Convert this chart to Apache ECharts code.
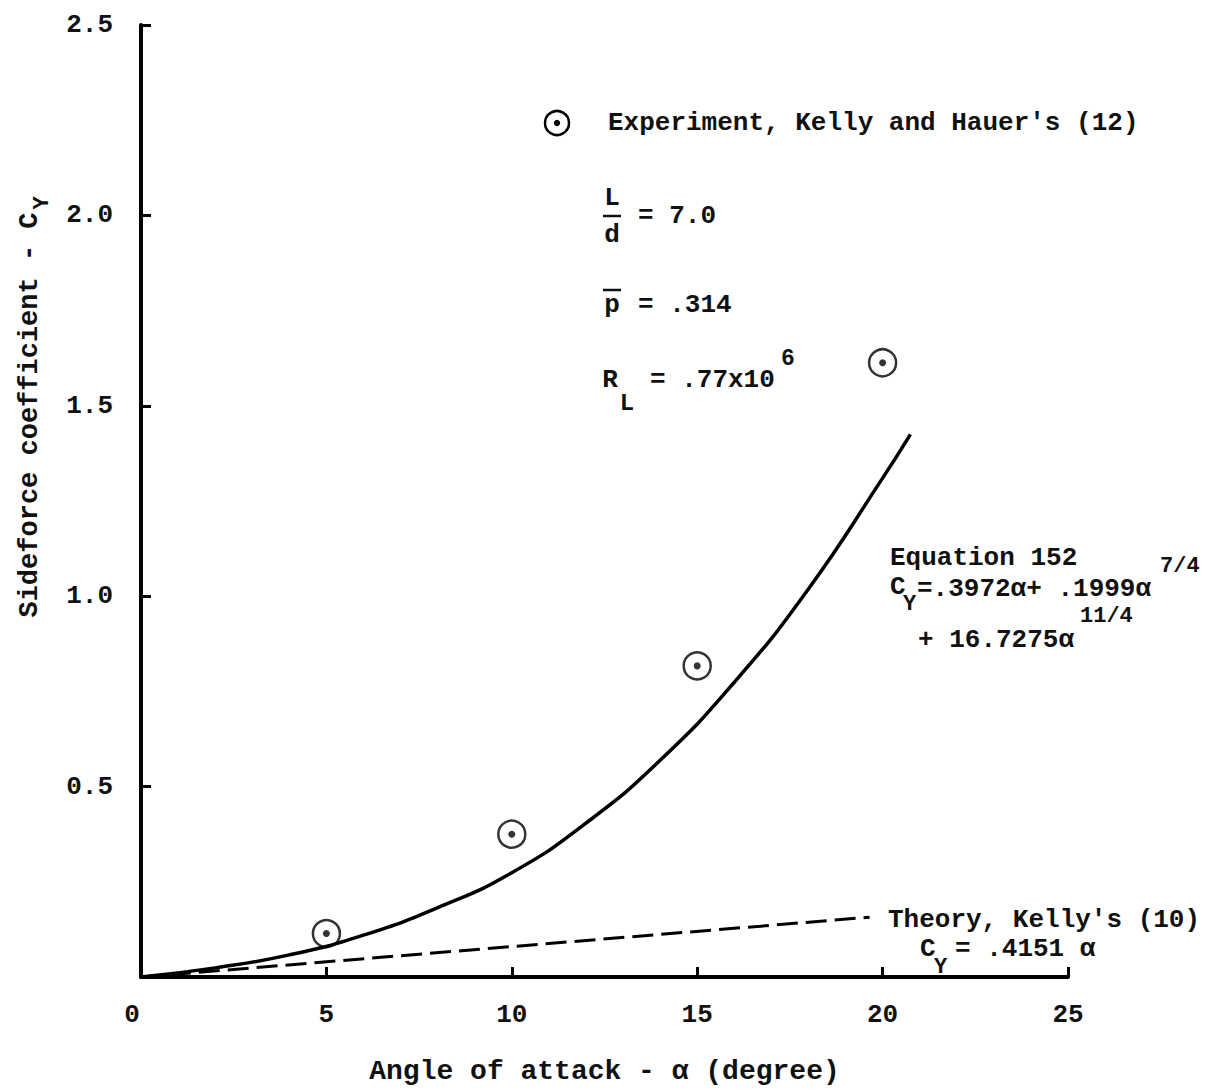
<!DOCTYPE html>
<html>
<head>
<meta charset="utf-8">
<script src="https://cdn.jsdelivr.net/npm/echarts@6/dist/echarts.min.js"></script>
<style>
html,body{margin:0;padding:0;background:#fff;}
#chart{width:1218px;height:1090px;}
</style>
</head>
<body>
<div id="chart"></div>
<script>
// ---- data ----
const xTicks = [0, 5, 10, 15, 20, 25];
const yTicks = [0, 0.5, 1.0, 1.5, 2.0, 2.5];

// Equation 152 curve
const eqX = [0, 2, 4, 6, 8, 10, 12, 14, 16, 18, 20, 20.75];
const eqY = [0, 0.024, 0.058, 0.110, 0.182, 0.274, 0.404, 0.569, 0.774, 1.019, 1.310, 1.425];

// Theory, Kelly's (10): straight dashed line
const thX = [0, 19.65];
const thY = [0, 0.157];

// Experiment, Kelly and Hauer's (12)
const expX = [5, 10, 15, 20];
const expY = [0.114, 0.375, 0.817, 1.613];

const FONT = '"Liberation Mono", "DejaVu Sans Mono", monospace';
const INK = '#111';

const zip = (a, b) => a.map((v, i) => [v, b[i]]);

function txt(x, y, text, opts) {
  opts = opts || {};
  return {
    type: 'text', x: x, y: y, rotation: opts.rotation || 0, silent: true,
    style: {
      text: text, fill: INK,
      font: (opts.weight || 'bold') + ' ' + (opts.size || 26) + 'px ' + FONT,
      textAlign: opts.align || 'left', textVerticalAlign: 'middle'
    }
  };
}
function bar(x1, x2, y) {
  return { type: 'line', silent: true, shape: { x1: x1, y1: y, x2: x2, y2: y }, style: { stroke: INK, lineWidth: 2.5 } };
}

const chart = echarts.init(document.getElementById('chart'), null, { renderer: 'svg' });

chart.setOption({
  backgroundColor: '#fff',
  animation: false,
  grid: { left: 141, right: 150, top: 25, bottom: 103 },
  xAxis: {
    type: 'value', min: xTicks[0], max: xTicks[xTicks.length - 1], interval: 5,
    name: 'Angle of attack - α (degree)', nameLocation: 'middle', nameGap: 80,
    nameTextStyle: { fontFamily: FONT, fontWeight: 'bold', fontSize: 28, color: INK },
    axisLine: { show: true, onZero: false, lineStyle: { color: '#000', width: 4 } },
    axisTick: { show: true, inside: true, length: 10, lineStyle: { color: '#000', width: 3 } },
    axisLabel: {
      fontFamily: FONT, fontWeight: 'bold', fontSize: 26, color: INK, margin: 25,
      formatter: v => (v === 0 ? '{z|0}' : String(v)),
      rich: { z: { fontFamily: FONT, fontWeight: 'bold', fontSize: 26, color: INK, padding: [0, 18, 0, 0] } }
    },
    splitLine: { show: false }
  },
  yAxis: {
    type: 'value', min: yTicks[0], max: yTicks[yTicks.length - 1], interval: 0.5,
    axisLine: { show: true, onZero: false, lineStyle: { color: '#000', width: 4 } },
    axisTick: { show: true, inside: true, length: 10, lineStyle: { color: '#000', width: 3 } },
    axisLabel: {
      fontFamily: FONT, fontWeight: 'bold', fontSize: 26, color: INK, margin: 28,
      formatter: v => (v === 0 ? '' : v.toFixed(1))
    },
    splitLine: { show: false }
  },
  series: [
    {
      name: 'Equation 152', type: 'line', data: zip(eqX, eqY), smooth: true,
      showSymbol: false, lineStyle: { color: '#000', width: 3.5 }, z: 3
    },
    {
      name: "Theory, Kelly's (10)", type: 'line', data: zip(thX, thY),
      showSymbol: false, lineStyle: { color: '#000', width: 3, type: [21, 8] }, z: 3
    },
    {
      name: 'Experiment ring', type: 'scatter', data: zip(expX, expY),
      symbol: 'circle', symbolSize: 27,
      itemStyle: { color: 'rgba(255,255,255,0)', borderColor: '#000', borderWidth: 2.5 }, z: 4
    },
    {
      name: 'Experiment dot', type: 'scatter', data: zip(expX, expY),
      symbol: 'circle', symbolSize: 7, itemStyle: { color: '#000' }, z: 5
    }
  ],
  graphic: [
    // y-axis title
    txt(30, 415, 'Sideforce coefficient - C', { rotation: Math.PI / 2, align: 'center', size: 27 }),
    txt(42, 203, 'Y', { rotation: Math.PI / 2, align: 'center', size: 22 }),
    // legend
    { type: 'circle', silent: true, shape: { cx: 557, cy: 123, r: 12 }, style: { fill: 'none', stroke: '#000', lineWidth: 2.5 } },
    { type: 'circle', silent: true, shape: { cx: 557, cy: 123, r: 3.2 }, style: { fill: '#000' } },
    txt(608, 123, "Experiment, Kelly and Hauer's (12)"),
    // L/d = 7.0
    txt(612, 198, 'L', { align: 'center' }),
    bar(603, 621, 216),
    txt(612, 235, 'd', { align: 'center' }),
    txt(638, 216, '= 7.0'),
    // p-bar = .314
    bar(603, 621, 290),
    txt(612, 305, 'p', { align: 'center' }),
    txt(638, 305, '= .314'),
    // R_L = .77x10^6
    txt(610, 380, 'R', { align: 'center' }),
    txt(627, 403, 'L', { align: 'center', size: 24 }),
    txt(650, 380, '= .77x10'),
    txt(781, 359, '6', { size: 23 }),
    // Equation 152
    txt(890, 558, 'Equation 152'),
    txt(890, 587, 'C'),
    txt(903, 604, 'Y', { size: 22 }),
    txt(917, 589, '=.3972α+ .1999α'),
    txt(1160, 566, '7/4', { size: 22 }),
    txt(918, 640, '+ 16.7275α'),
    txt(1080, 616, '11/4', { size: 22 }),
    // Theory
    txt(888, 920, "Theory, Kelly's (10)"),
    txt(920, 949, 'C'),
    txt(934, 967, 'Y', { size: 22 }),
    txt(955, 949, '= .4151 α')
  ]
});
</script>
</body>
</html>
